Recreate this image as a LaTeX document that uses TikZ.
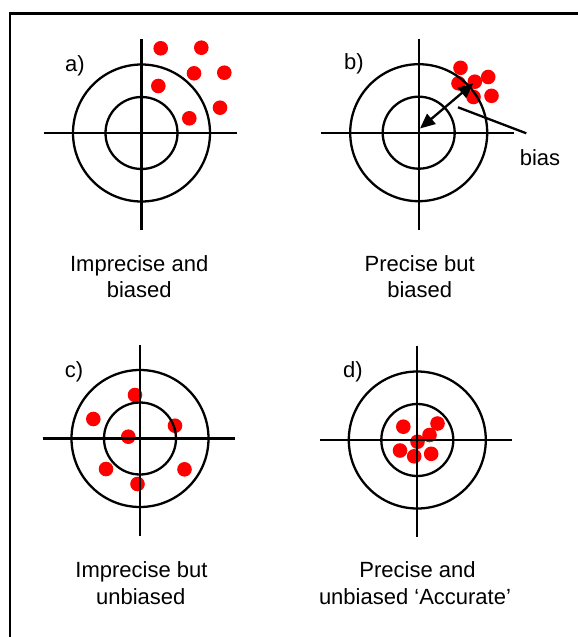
\documentclass[tikz,border=0pt]{standalone}
\usepackage{fontspec}
\setmainfont{Liberation Sans}
\usetikzlibrary{arrows.meta}
\newcommand\bullseye[3]{%
  \coordinate (#1) at (#2,#3);
  \coordinate (#1W) at ([shift={(-97.5,0)}]#1);
  \coordinate (#1E) at ([shift={(95,0)}]#1);
  \coordinate (#1N) at ([shift={(0,-94)}]#1);
  \coordinate (#1S) at ([shift={(0,97)}]#1);
  \draw[ring] (#1) circle[radius=68.5pt];
  \draw[ring] (#1) circle[radius=36pt];
  \draw[ring] (#1W) -- (#1E);
  \draw[ring] (#1N) -- (#1S);
}
\begin{document}
\begin{tikzpicture}[x=1pt,y=-1pt,
  ring/.style={line width=2.3pt, black},
  hit/.style={fill=red},
  lbl/.style={font=\fontsize{22}{27}\selectfont, inner sep=0pt},
  tip/.style={line width=2.3pt, {Triangle[length=15pt,width=13pt]}-{Triangle[length=15pt,width=13pt]}}
]
\useasboundingbox (0,0) rectangle (578,637);
% frame
\coordinate (frameBL) at (10,637);
\coordinate (frameTL) at (10,13.5);
\coordinate (frameTR) at (578,13.5);
\draw[line width=2.4pt] (frameBL) -- (frameTL) -- (frameTR);
% dots
\foreach \p in {(160.7,48.3),(201.3,47.7),(194,73.3),(224.3,72.7),(158.3,86),(220,107.7),(189.3,118.3)}
  \fill[hit] \p circle[radius=7.3pt];
\foreach \p in {(460.5,67.8),(458.5,83.3),(474.8,81.7),(488.2,77),(473.5,97),(491.5,95.8)}
  \fill[hit] \p circle[radius=7.3pt];
\foreach \p in {(135,395),(93.3,419),(175,425.7),(128.3,436.7),(106,469),(184.5,469.3),(137.5,484)}
  \fill[hit] \p circle[radius=7.3pt];
\foreach \p in {(403.3,426.7),(437.5,423.5),(429.5,435),(417.5,441.7),(400,450.5),(414.2,456.3),(431.2,453.8)}
  \fill[hit] \p circle[radius=7.3pt];
% targets
\bullseye{tA}{141.5}{133}
\bullseye{tB}{418.7}{132.7}
\bullseye{tC}{140}{438.5}
\bullseye{tD}{417.3}{440}
% bias arrow
\coordinate (bTail) at (420,128.5);
\coordinate (bTip) at (473.3,83.3);
\draw[tip] (bTail) -- (bTip);
\node[lbl,anchor=base] (bias) at (540,165) {bias};
\coordinate (biasFoot) at (458,107.3);
\coordinate (biasEnd) at (526.3,133.3);
\draw[ring] (biasFoot) -- (biasEnd);
% labels
\node[lbl] (la) at (75,66) {a)};
\node[lbl] (lb) at (354,64) {b)};
\node[lbl] (lc) at (74,372) {c)};
\node[lbl] (ld) at (353,372) {d)};
% captions
\node[lbl,anchor=base] (capA1) at (139.2,271) {Imprecise and};
\node[lbl,anchor=base] (capA2) at (139.2,297) {biased};
\node[lbl,anchor=base] (capB1) at (419.7,271) {Precise but};
\node[lbl,anchor=base] (capB2) at (419.7,297) {biased};
\node[lbl,anchor=base] (capC1) at (141.5,577) {Imprecise but};
\node[lbl,anchor=base] (capC2) at (140.8,604) {unbiased};
\node[lbl,anchor=base] (capD1) at (417.5,577) {Precise and};
\node[lbl,anchor=base] (capD2) at (415,604) {unbiased ‘Accurate’};
\end{tikzpicture}
\end{document}
